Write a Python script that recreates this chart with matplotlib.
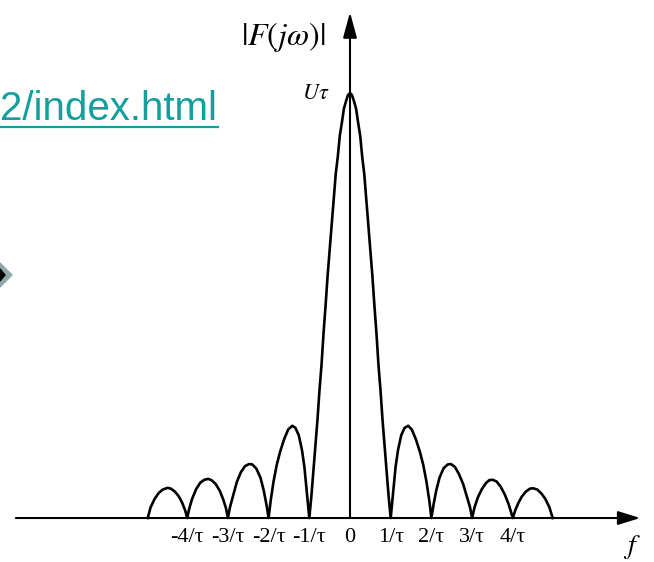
import matplotlib
matplotlib.use("Agg")
import matplotlib.pyplot as plt
from matplotlib.lines import Line2D
from matplotlib.patches import Polygon

plt.rcParams["mathtext.fontset"] = "stix"

# |F(jw)|, f in units of 1/tau, amplitude in units of U*tau
freq = [-4.97, -4.9, -4.8, -4.7, -4.6, -4.48, -4.4, -4.3, -4.2, -4.12, -4.05,
        -4.0, -3.95, -3.88, -3.78, -3.68, -3.58, -3.48, -3.4, -3.3, -3.2, -3.12, -3.05,
        -3.0, -2.95, -2.88, -2.78, -2.68, -2.58, -2.48, -2.4, -2.3, -2.2, -2.12, -2.05,
        -2.0, -1.95, -1.88, -1.8, -1.72, -1.62, -1.52, -1.42, -1.34, -1.26, -1.18, -1.12, -1.06,
        -1.0, -0.95, -0.9, -0.85, -0.8, -0.75, -0.7, -0.65, -0.6, -0.55, -0.5,
        -0.45, -0.4, -0.35, -0.3, -0.25, -0.2, -0.15, -0.1, -0.05, 0.0,
        0.05, 0.1, 0.15, 0.2, 0.25, 0.3, 0.35, 0.4, 0.45, 0.5,
        0.55, 0.6, 0.65, 0.7, 0.75, 0.8, 0.85, 0.9, 0.95, 1.0,
        1.06, 1.12, 1.18, 1.26, 1.34, 1.43, 1.52, 1.62, 1.72, 1.8, 1.88, 1.95, 2.0,
        2.05, 2.12, 2.2, 2.3, 2.4, 2.48, 2.58, 2.68, 2.78, 2.88, 2.95, 3.0,
        3.06, 3.14, 3.24, 3.34, 3.42, 3.5, 3.6, 3.7, 3.8, 3.9, 4.0,
        4.06, 4.14, 4.22, 4.32, 4.42, 4.5, 4.6, 4.7, 4.8, 4.9, 4.98]
amp = [0.0, 0.025, 0.045, 0.059, 0.067, 0.071, 0.069, 0.062, 0.05, 0.035, 0.018,
       0.0, 0.022, 0.045, 0.068, 0.083, 0.09, 0.092, 0.089, 0.08, 0.064, 0.045, 0.024,
       0.0, 0.025, 0.05, 0.085, 0.108, 0.122, 0.127, 0.126, 0.116, 0.095, 0.065, 0.03,
       0.0, 0.04, 0.085, 0.125, 0.155, 0.185, 0.208, 0.217, 0.212, 0.195, 0.16, 0.12, 0.06,
       0.0, 0.05, 0.11, 0.17, 0.23, 0.3, 0.36, 0.435, 0.5, 0.57, 0.63,
       0.69, 0.75, 0.81, 0.85, 0.9, 0.93, 0.963, 0.98, 0.995, 1.0,
       0.995, 0.98, 0.963, 0.93, 0.9, 0.85, 0.81, 0.75, 0.69, 0.63,
       0.57, 0.5, 0.435, 0.36, 0.3, 0.23, 0.17, 0.11, 0.05, 0.0,
       0.06, 0.12, 0.16, 0.195, 0.212, 0.217, 0.208, 0.185, 0.155, 0.125, 0.085, 0.04, 0.0,
       0.03, 0.065, 0.095, 0.117, 0.126, 0.127, 0.12, 0.103, 0.08, 0.048, 0.025, 0.0,
       0.025, 0.048, 0.068, 0.082, 0.089, 0.09, 0.086, 0.074, 0.056, 0.032, 0.0,
       0.018, 0.036, 0.05, 0.062, 0.069, 0.07, 0.067, 0.058, 0.045, 0.025, 0.0]

tick_pos = [-4, -3, -2, -1, 0, 1, 2, 3, 4]
tick_txt = ["-4/τ", "-3/τ", "-2/τ", "-1/τ", "0", "1/τ", "2/τ", "3/τ", "4/τ"]

fig = plt.figure(figsize=(6.54, 5.62), dpi=100)
ax = fig.add_axes([0, 0, 1, 1])
ax.set_xlim(-8.60, 7.47)
ax.set_ylim(-0.1035, 1.2188)
ax.axis("off")

ax.plot(freq, amp, color="black", lw=1.9, solid_joinstyle="round")

arrow = dict(arrowstyle="-|>,head_length=1.35,head_width=0.42", color="black",
             lw=1.5, shrinkA=0, shrinkB=0, mutation_scale=10)
ax.annotate("", xy=(7.13, 0), xytext=(-8.21, 0), arrowprops=arrow)
arrow_v = dict(arrow, arrowstyle="-|>,head_length=1.55,head_width=0.42")
ax.annotate("", xy=(0, 1.19), xytext=(0, 0), arrowprops=arrow_v)

for p, t in zip(tick_pos, tick_txt):
    ax.text(p, -0.047, t, ha="center", va="center", fontsize=16,
            family="Liberation Serif")

ax.text(-1.65, 1.132, r"$|F(j\omega)|$", ha="center", va="center", fontsize=23)
ax.text(-0.84, 1.0, r"$U\tau$", ha="center", va="center", fontsize=16)
ax.text(6.93, -0.068, r"$f$", ha="center", va="center", fontsize=20)

# leftovers of the slide behind the chart
teal = "#13A09C"
fig.text(0.5 / 654, 1 - 120 / 562, "2/index.html", ha="left", va="baseline",
         fontsize=29, color=teal, family="Liberation Sans")
fig.add_artist(Line2D([0, 218 / 654], [1 - 127 / 562] * 2, color=teal, lw=1.6,
                      transform=fig.transFigure))
fig.add_artist(Polygon([(-12 / 654, 1 - 275 / 562), (0, 1 - 263 / 562),
                        (12 / 654, 1 - 275 / 562), (0, 1 - 287 / 562)],
                       closed=True, color="#8FA9AB", transform=fig.transFigure))
fig.add_artist(Polygon([(-6 / 654, 1 - 275 / 562), (0, 1 - 269 / 562),
                        (5 / 654, 1 - 275 / 562), (0, 1 - 281 / 562)],
                       closed=True, color="black", transform=fig.transFigure))

fig.savefig("out.png", dpi=100)
